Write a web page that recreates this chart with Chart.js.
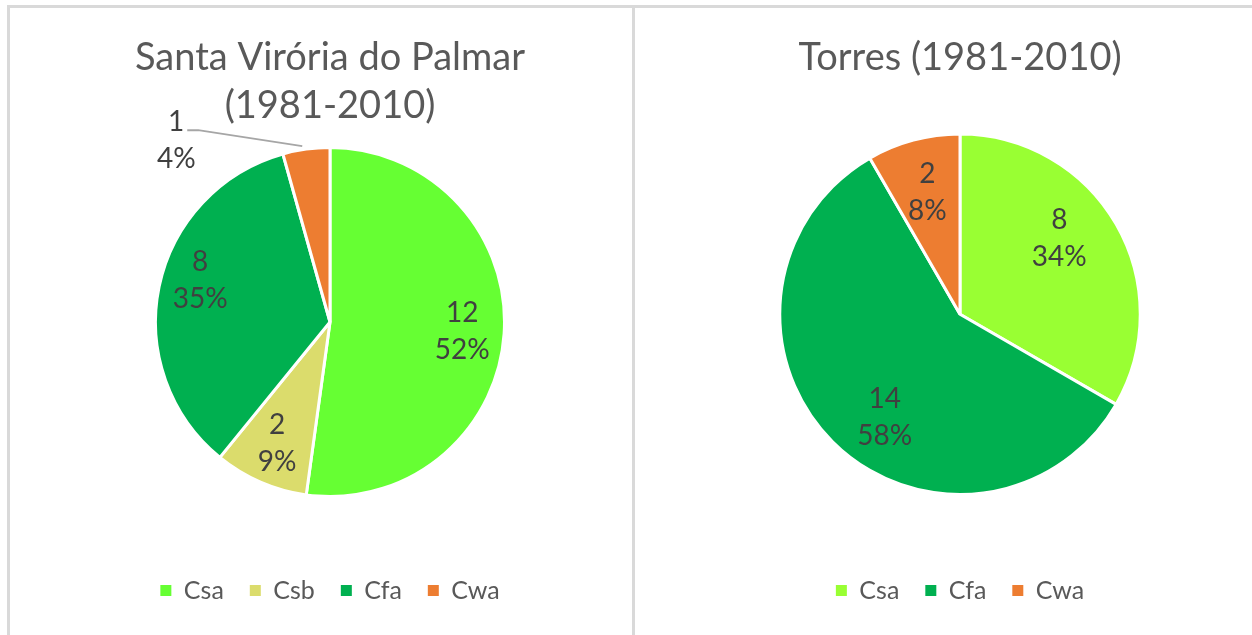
<!DOCTYPE html>
<html>
<head>
<meta charset="utf-8">
<script src="https://cdn.jsdelivr.net/npm/chart.js@4.4.1/dist/chart.umd.min.js"></script>
<style>
  html, body { margin: 0; padding: 0; background: #fff; }
  body { width: 1252px; height: 635px; overflow: hidden; position: relative; }
  .frame { position: absolute; left: 7px; top: 5px; width: 1400px; height: 700px;
           border-left: 3px solid #d9d9d9; border-top: 3px solid #d9d9d9; }
  .divider { position: absolute; left: 632px; top: 5px; width: 3px; height: 640px; background: #d9d9d9; }
  .box { position: absolute; top: 8px; height: 627px; }
  #leftBox { left: 10px; width: 622px; }
  #rightBox { left: 635px; width: 617px; }
</style>
</head>
<body>
<div class="frame"></div>
<div class="divider"></div>
<div class="box" id="leftBox"><canvas id="left-chart"></canvas></div>
<div class="box" id="rightBox"><canvas id="right-chart"></canvas></div>
<script>
// values
const leftCategories = ['Csa', 'Csb', 'Cfa', 'Cwa'];
const leftValues = [12, 2, 8, 1];
const leftPercents = ['52%', '9%', '35%', '4%'];
const leftColors = ['#66ff33', '#dbdc6c', '#00b050', '#ed7d31'];

const rightCategories = ['Csa', 'Cfa', 'Cwa'];
const rightValues = [8, 14, 2];
const rightPercents = ['34%', '58%', '8%'];
const rightColors = ['#99ff33', '#00b050', '#ed7d31'];

const FONT = 'Lato';

// pushes the legend down, leaving a gap under the pie
const legendGap = {
  id: 'legendGap',
  beforeLayout(chart, args, opts) {
    const lg = chart.legend;
    if (!lg || lg._gapPatched) return;
    const fit = lg.fit;
    lg.fit = function() { fit.call(this); this.height += opts.gap; };
    lg._gapPatched = true;
  },
  afterLayout(chart, args, opts) {
    chart.legend.top += opts.gap;
    chart.legend.height -= opts.gap;
  }
};

// value + percent labels like Excel
const sliceLabels = {
  id: 'sliceLabels',
  afterDatasetsDraw(chart, args, opts) {
    const ctx = chart.ctx;
    const meta = chart.getDatasetMeta(0);
    const values = chart.data.datasets[0].data;
    ctx.save();
    ctx.font = opts.size + 'px ' + FONT;
    ctx.fillStyle = '#404040';
    ctx.textAlign = 'center';
    ctx.textBaseline = 'middle';
    meta.data.forEach((arc, i) => {
      const p = arc.getProps(['x', 'y', 'startAngle', 'endAngle', 'outerRadius'], true);
      const mid = (p.startAngle + p.endAngle) / 2;
      let lx, ly;
      const out = opts.outside && opts.outside.index === i ? opts.outside : null;
      if (out) {
        const ax = p.x + Math.cos(mid) * p.outerRadius;
        const ay = p.y + Math.sin(mid) * p.outerRadius;
        lx = ax + out.dx;
        ly = ay + out.dy;
        ctx.strokeStyle = '#a6a6a6';
        ctx.lineWidth = 2;
        ctx.beginPath();
        ctx.moveTo(lx + 11, ly - 10);
        ctx.lineTo(lx + 22, ly - 10);
        ctx.lineTo(ax - 4, ay - 3);
        ctx.stroke();
      } else {
        const nudge = (opts.nudge && opts.nudge[i]) || [0, 0];
        lx = p.x + Math.cos(mid) * p.outerRadius * opts.factor + nudge[0];
        ly = p.y + Math.sin(mid) * p.outerRadius * opts.factor + nudge[1];
      }
      ctx.fillText(String(values[i]), lx, ly - opts.lineGap / 2);
      ctx.fillText(opts.percents[i], lx, ly + opts.lineGap / 2);
    });
    ctx.restore();
  }
};

function legendItems(chart) {
  const items = Chart.overrides.pie.plugins.legend.labels.generateLabels(chart);
  items.forEach(it => { it.lineWidth = 0; it.strokeStyle = it.fillStyle; });
  return items;
}

function makePie(id, title, labels, values, colors, percents, lay) {
  const ctx = document.getElementById(id).getContext('2d');
  return new Chart(ctx, {
    type: 'pie',
    data: {
      labels: labels,
      datasets: [{
        data: values,
        backgroundColor: colors,
        borderColor: '#ffffff',
        borderWidth: 3
      }]
    },
    options: {
      responsive: true,
      maintainAspectRatio: false,
      animation: false,
      layout: { padding: { left: lay.padLeft, right: 0, top: 0, bottom: lay.padBottom } },
      plugins: {
        title: {
          display: true,
          text: title,
          color: '#595959',
          font: { family: FONT, size: 38, weight: 'normal', lineHeight: 1.25 },
          padding: { top: lay.titleTop, bottom: lay.titleBottom }
        },
        legend: {
          position: 'bottom',
          labels: {
            color: '#595959',
            font: { family: FONT, size: 25 },
            boxWidth: 11,
            boxHeight: 11,
            padding: 26,
            generateLabels: legendItems
          }
        },
        tooltip: { enabled: false },
        legendGap: { gap: lay.gap },
        sliceLabels: {
          size: 28,
          lineGap: 37,
          factor: lay.factor,
          percents: percents,
          outside: lay.outside,
          nudge: lay.nudge
        }
      }
    },
    plugins: [legendGap, sliceLabels]
  });
}

makePie('left-chart', ['Santa Virória do Palmar', '(1981-2010)'],
  leftCategories, leftValues, leftColors, leftPercents,
  { padLeft: 18, padBottom: 22, titleTop: 26, titleBottom: 17, gap: 54, factor: 0.76,
    outside: { index: 3, dx: -130, dy: -9 },
    nudge: { 2: [0, -15] } });

makePie('right-chart', 'Torres (1981-2010)',
  rightCategories, rightValues, rightColors, rightPercents,
  { padLeft: 33, padBottom: 22, titleTop: 26, titleBottom: 51, gap: 56, factor: 0.70,
    outside: null,
    nudge: { 0: [-10, -13], 1: [14, 14] } });
</script>
</body>
</html>
